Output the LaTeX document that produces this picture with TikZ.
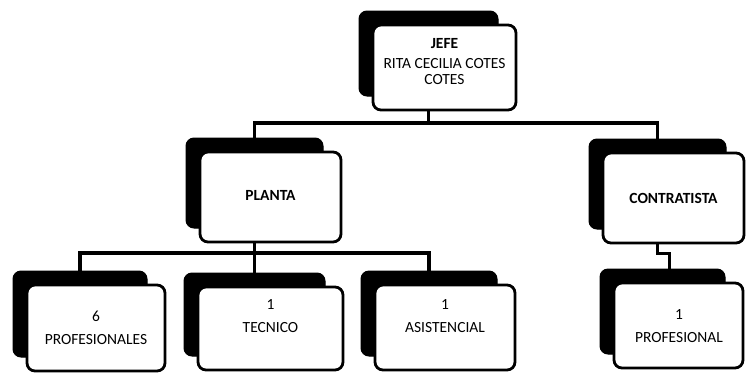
\documentclass[tikz,border=0pt]{standalone}
\usepackage{fontspec}
\setmainfont{Carlito}
\usetikzlibrary{calc}
\begin{document}
\begin{tikzpicture}[x=1pt,y=-1pt,
  front/.style={draw=black, line width=2.8pt, fill=white, rounded corners=8pt, inner sep=0pt},
  shade/.style={fill=black, draw=black, line width=1pt, rounded corners=8pt, inner sep=0pt},
  conn/.style={line width=3.2pt},
  txt/.style={align=center, font=\fontsize{15.5}{23}\selectfont, inner sep=0pt}]
\useasboundingbox (0,0) rectangle (747,373);
% JEFE
\node[shade, minimum width=139pt, minimum height=85pt] (jefeS) at (428.5,53.5) {};
\node[front, minimum width=143pt, minimum height=85pt] (jefe) at (444.5,67.5) {};
\node[txt] (jefeT) at (444.5,62) {\textbf{JEFE}\\[-3pt]RITA CECILIA COTES\\[-7pt]COTES};
% PLANTA
\node[shade, minimum width=137pt, minimum height=90pt] (plantaS) at (254.5,183) {};
\node[front, minimum width=141pt, minimum height=90pt] (planta) at (270.5,197) {};
\node[txt] (plantaT) at (270.5,195.5) {\textbf{PLANTA}};
% CONTRATISTA
\node[shade, minimum width=137pt, minimum height=90pt] (contrS) at (657.5,184) {};
\node[front, minimum width=141pt, minimum height=90pt] (contr) at (673.5,198) {};
\node[txt] (contrT) at (673.5,198) {\textbf{CONTRATISTA}};
% 6 PROFESIONALES
\node[shade, minimum width=134pt, minimum height=86pt] (prof6S) at (80,314) {};
\node[front, minimum width=138pt, minimum height=86pt] (prof6) at (96,328) {};
\node[txt] (prof6T) at (96,328) {6\\PROFESIONALES};
% TECNICO
\node[shade, minimum width=141pt, minimum height=83pt] (tecS) at (254.5,314.5) {};
\node[front, minimum width=145pt, minimum height=83pt] (tec) at (270.5,328.5) {};
\node[txt] (tecT) at (270.5,316.5) {1\\TECNICO};
% ASISTENCIAL
\node[shade, minimum width=136pt, minimum height=85pt] (asisS) at (429,313.5) {};
\node[front, minimum width=140pt, minimum height=85pt] (asis) at (445,327.5) {};
\node[txt] (asisT) at (445,316) {1\\ASISTENCIAL};
% 1 PROFESIONAL
\node[shade, minimum width=125pt, minimum height=85pt] (prof1S) at (662.5,311.5) {};
\node[front, minimum width=129pt, minimum height=85pt] (prof1) at (678.5,325.5) {};
\node[txt] (prof1T) at (679,326.5) {1\\PROFESIONAL};
% connectors
\coordinate (busA) at (0,123);
\coordinate (busB) at (0,253);
\draw[conn] (jefeS |- jefe.south) -- (jefeS |- busA);
\draw[conn] (plantaS.north) -- (plantaS |- busA) -- (contrS |- busA) -- (contrS.north);
\draw[conn] (plantaS |- planta.south) -- (plantaS |- busB);
\draw[conn] (prof6S.north) -- (prof6S |- busB) -- (asisS |- busB) -- (asisS.north);
\draw[conn] (tecS.north) -- (tecS |- busB);
\draw[conn] (contrS |- contr.south) -- ++(0,9) coordinate (j1) -- ++(12,0) coordinate (j2) -- (j2 |- prof1S.north);
\end{tikzpicture}
\end{document}
